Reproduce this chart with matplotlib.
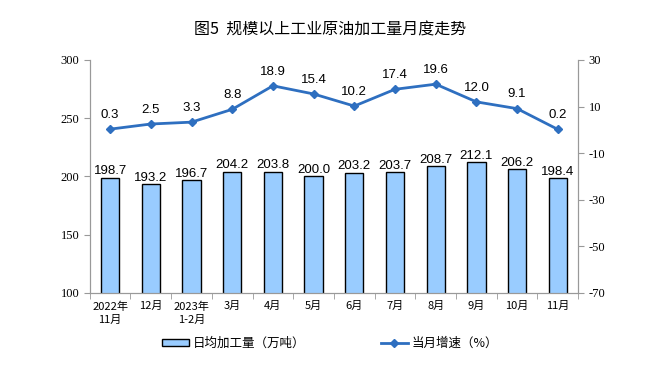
import matplotlib
matplotlib.use("Agg")
import matplotlib.pyplot as plt
import numpy as np

categories = ["2022年\n11月", "12月", "2023年\n1-2月", "3月", "4月", "5月", "6月", "7月", "8月", "9月", "10月", "11月"]
daily_output = [198.7, 193.2, 196.7, 204.2, 203.8, 200.0, 203.2, 203.7, 208.7, 212.1, 206.2, 198.4]
growth = [0.3, 2.5, 3.3, 8.8, 18.9, 15.4, 10.2, 17.4, 19.6, 12.0, 9.1, 0.2]

plt.rcParams["axes.unicode_minus"] = False
plt.rcParams["font.family"] = ["Liberation Serif", "DejaVu Serif"]
cjk = ["Noto Sans CJK SC", "DejaVu Sans"]
sans = "Liberation Sans"

fig = plt.figure(figsize=(6.6, 3.77), dpi=100)
ax = fig.add_axes([0.136, 0.223, 0.740, 0.618])
ax2 = ax.twinx()

x = np.arange(len(categories))
ax.bar(x, daily_output, width=0.45, color="#99ccff", edgecolor="black", linewidth=1.0, zorder=2,
       label="日均加工量（万吨）")
for xi, v in zip(x, daily_output):
    ax.text(xi, v + 0.5, f"{v:.1f}", ha="center", va="bottom", fontsize=9.5, family=sans)

ax.set_ylim(100, 300)
ax.set_yticks([100, 150, 200, 250, 300])
ax.set_xlim(-0.5, len(categories) - 0.5)
ax.set_xticks(x)
ax.set_xticklabels(categories, family=cjk, fontsize=8, linespacing=1.4)
ax.set_xticks(np.arange(-0.5, len(categories), 1), minor=True)
ax.tick_params(axis="x", which="major", length=0, pad=6)
ax.tick_params(axis="x", which="minor", length=4, color="#999999")
ax.tick_params(axis="y", length=4, color="#999999", labelsize=9)

ax2.plot(x, growth, color="#2e6fc0", linewidth=2, marker="D", markersize=4, zorder=3,
         label="当月增速（%）")
for xi, v in zip(x, growth):
    ax2.text(xi, v + 3.5, f"{v:.1f}", ha="center", va="bottom", fontsize=9.5, family=sans)
ax2.set_ylim(-70, 30)
ax2.set_yticks([-70, -50, -30, -10, 10, 30])
ax2.tick_params(axis="y", length=4, color="#999999", labelsize=9)

for a in (ax, ax2):
    for s in a.spines.values():
        s.set_color("#999999")
    a.spines["top"].set_visible(False)

fig.text(0.5, 0.92, "图5  规模以上工业原油加工量月度走势", ha="center", va="center",
         fontsize=11.5, family=cjk, weight="medium")

h1, l1 = ax.get_legend_handles_labels()
h2, l2 = ax2.get_legend_handles_labels()
fig.legend(h1 + h2, l1 + l2, loc="center", bbox_to_anchor=(0.5, 0.09), ncol=2, frameon=False,
           prop={"family": cjk, "size": 9}, columnspacing=6, handlelength=2.2, handleheight=0.5,
           handletextpad=0.3)

fig.savefig("out.png", dpi=100)
